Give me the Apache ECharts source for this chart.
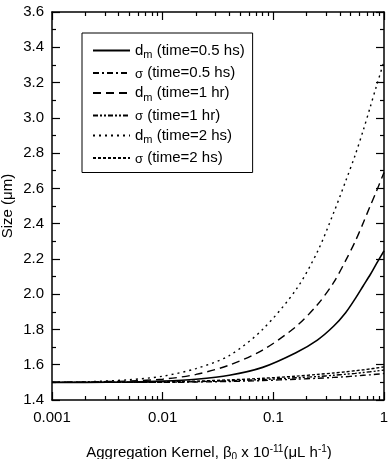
<!DOCTYPE html>
<html>
<head>
<meta charset="utf-8">
<script src="https://cdn.jsdelivr.net/npm/echarts@6/dist/echarts.min.js"></script>
<style>
html, body { margin: 0; padding: 0; background: #fff; }
#chart { width: 390px; height: 459px; }
</style>
</head>
<body>
<div id="chart"></div>
<script>
// kernel values (x, log scale)
var kernel = [0.001, 0.002, 0.005, 0.01, 0.02, 0.04, 0.08, 0.16, 0.25, 0.35, 0.45, 0.55, 0.65, 0.75, 0.85, 1];
// mean size d_m and spread sigma for each time
var dm05 = [1.5, 1.5, 1.502, 1.507, 1.518, 1.54, 1.585, 1.668, 1.74, 1.818, 1.895, 1.975, 2.048, 2.11, 2.17, 2.246];
var sg05 = [1.5, 1.5, 1.5, 1.5, 1.502, 1.505, 1.51, 1.518, 1.523, 1.528, 1.532, 1.536, 1.54, 1.543, 1.546, 1.55];
var dm1 = [1.5, 1.502, 1.508, 1.518, 1.545, 1.598, 1.683, 1.816, 1.94, 2.065, 2.19, 2.30, 2.405, 2.50, 2.58, 2.69];
var sg1 = [1.5, 1.5, 1.5, 1.501, 1.504, 1.509, 1.516, 1.526, 1.533, 1.54, 1.546, 1.551, 1.556, 1.56, 1.564, 1.57];
var dm2 = [1.5, 1.503, 1.515, 1.535, 1.578, 1.652, 1.80, 2.025, 2.24, 2.46, 2.64, 2.79, 2.93, 3.06, 3.175, 3.32];
var sg2 = [1.5, 1.5, 1.501, 1.503, 1.507, 1.514, 1.523, 1.535, 1.545, 1.553, 1.56, 1.566, 1.571, 1.576, 1.581, 1.588];

var seriesNames = ['dm 0.5', 'sg 0.5', 'dm 1', 'sg 1', 'dm 2', 'sg 2'];
var legendLabels = [
  '{d|d}{sub|m}{t| (time=0.5 hs)}',
  '{s|σ}{t| (time=0.5 hs)}',
  '{d|d}{sub|m}{t| (time=1 hr)}',
  '{s|σ}{t| (time=1 hr)}',
  '{d|d}{sub|m}{t| (time=2 hs)}',
  '{s|σ}{t| (time=2 hs)}'
];
var minorTicks = [0.002, 0.003, 0.004, 0.005, 0.006, 0.007, 0.008, 0.009,
  0.02, 0.03, 0.04, 0.05, 0.06, 0.07, 0.08, 0.09,
  0.2, 0.3, 0.4, 0.5, 0.6, 0.7, 0.8, 0.9];
var majorTicks = [0.001, 0.01, 0.1, 1];

var font = 'Liberation Sans, Arial, sans-serif';
var dashes = ['solid', [6, 3, 2, 3], [8, 5], [5, 2, 2, 2, 2, 2], [2, 4], [3, 2]];
var allData = [dm05, sg05, dm1, sg1, dm2, sg2];

var chart = echarts.init(document.getElementById('chart'));

function pairs(ys) {
  return kernel.map(function (x, i) { return [x, ys[i]]; });
}

function xAx(pos, minor, labels) {
  return {
    type: 'log',
    position: pos,
    min: 0.001,
    max: 1,
    logBase: 10,
    axisLine: { show: !minor, lineStyle: { color: '#000', width: 1.5 } },
    axisTick: {
      show: true,
      inside: true,
      length: minor ? 4 : 8,
      customValues: minor ? minorTicks : majorTicks,
      lineStyle: { color: '#000', width: 1.2 }
    },
    axisLabel: {
      show: labels,
      customValues: majorTicks,
      margin: 10,
      color: '#000',
      fontSize: 15,
      fontFamily: font,
      formatter: function (v) { return String(v); }
    },
    splitLine: { show: false },
    minorTick: { show: false }
  };
}

var option = {
  animation: false,
  backgroundColor: '#fff',
  grid: { left: 52, right: 6, top: 12, bottom: 59, outerBoundsMode: 'none', containLabel: false },
  legend: {
    orient: 'vertical',
    left: 82,
    top: 33,
    padding: [10, 8, 7, 10],
    itemGap: 5,
    itemWidth: 37,
    itemHeight: 14,
    icon: 'inherit',
    itemStyle: { opacity: 0 },
    borderColor: '#000',
    borderWidth: 1,
    data: seriesNames,
    formatter: function (name) { return legendLabels[seriesNames.indexOf(name)]; },
    textStyle: {
      color: '#000',
      fontFamily: font,
      fontSize: 15,
      rich: {
        d: { fontSize: 15, fontFamily: font, color: '#000' },
        sub: { fontSize: 11, fontFamily: font, color: '#000', padding: [9, 0, 0, 0] },
        t: { fontSize: 15, fontFamily: font, color: '#000' },
        s: { fontSize: 13, fontFamily: font, color: '#000', padding: [2, 0, 0, 0] }
      }
    }
  },
  xAxis: [
    Object.assign(xAx('bottom', false, true), {
      name: '{t|Aggregation Kernel, β}{sub|0}{t| x 10}{sup|-11}{t|(μL h}{sup|-1}{t|)}',
      nameLocation: 'middle',
      nameGap: 44,
      nameMoveOverlap: false,
      nameTextStyle: {
        padding: [0, 18, 0, 0],
        rich: {
          t: { fontSize: 15, fontFamily: font, color: '#000' },
          sub: { fontSize: 10, fontFamily: font, color: '#000', padding: [8, 0, 0, 0] },
          sup: { fontSize: 10, fontFamily: font, color: '#000', padding: [0, 0, 8, 0] }
        }
      }
    }),
    xAx('bottom', true, false),
    xAx('top', false, false),
    xAx('top', true, false)
  ],
  yAxis: [
    {
      type: 'value',
      position: 'left',
      min: 1.4,
      max: 3.6,
      interval: 0.2,
      name: 'Size (μm)',
      nameLocation: 'middle',
      nameGap: 37,
      nameMoveOverlap: false,
      nameTextStyle: { fontSize: 15, fontFamily: font, color: '#000' },
      axisLine: { show: true, lineStyle: { color: '#000', width: 1.5 } },
      axisTick: { show: true, inside: true, length: 8, lineStyle: { color: '#000', width: 1.2 } },
      minorTick: { show: true, splitNumber: 2, length: 4, lineStyle: { color: '#000', width: 1.2 } },
      axisLabel: {
        color: '#000',
        fontSize: 15,
        fontFamily: font,
        margin: 8,
        formatter: function (v) { return v.toFixed(1); }
      },
      splitLine: { show: false }
    },
    {
      type: 'value',
      position: 'right',
      min: 1.4,
      max: 3.6,
      interval: 0.2,
      axisLine: { show: true, lineStyle: { color: '#000', width: 1.5 } },
      axisTick: { show: true, inside: true, length: 8, lineStyle: { color: '#000', width: 1.2 } },
      minorTick: { show: true, splitNumber: 2, length: 4, lineStyle: { color: '#000', width: 1.2 } },
      axisLabel: { show: false },
      splitLine: { show: false }
    }
  ],
  series: allData.map(function (ys, i) {
    return {
      name: seriesNames[i],
      type: 'line',
      xAxisIndex: 0,
      yAxisIndex: 0,
      data: pairs(ys),
      smooth: 0.3,
      showSymbol: false,
      symbol: 'none',
      lineStyle: { color: '#000', width: i === 0 ? 1.6 : 1.4, type: dashes[i] },
      itemStyle: { color: '#000' }
    };
  })
};

chart.setOption(option);
</script>
</body>
</html>
